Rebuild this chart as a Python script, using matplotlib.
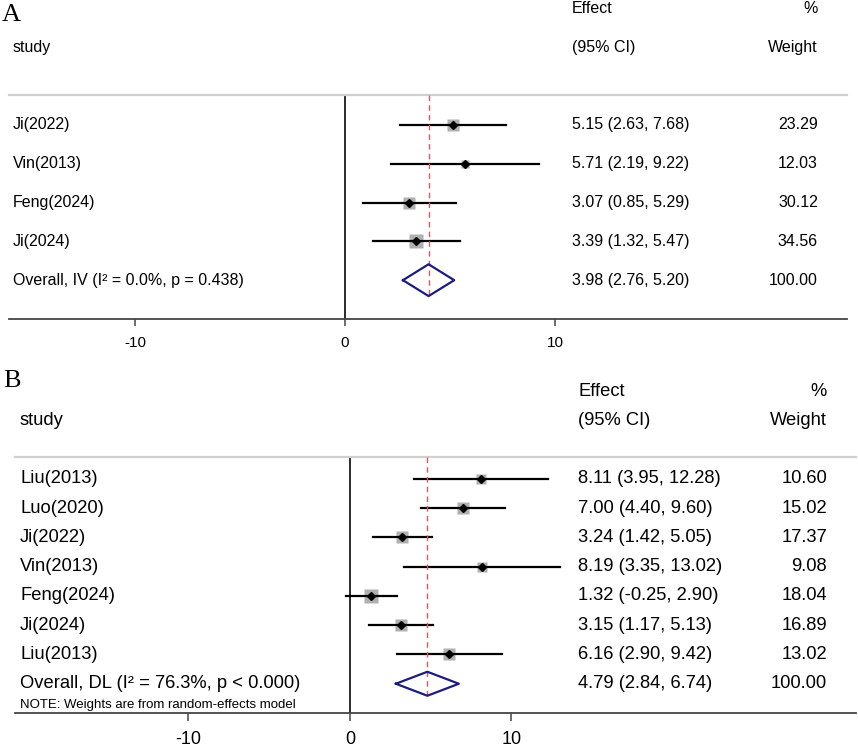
import numpy as np
import matplotlib.pyplot as plt
from matplotlib.transforms import blended_transform_factory

plt.rcParams['font.family'] = ['Liberation Sans', 'DejaVu Sans']
plt.rcParams['axes.unicode_minus'] = False

W, H = 858, 747

# Panel A data
a_studies = ['Ji(2022)', 'Vin(2013)', 'Feng(2024)', 'Ji(2024)']
a_est = [5.15, 5.71, 3.07, 3.39]
a_lo = [2.63, 2.19, 0.85, 1.32]
a_hi = [7.68, 9.22, 5.29, 5.47]
a_wt = [23.29, 12.03, 30.12, 34.56]
a_overall = [3.98, 2.76, 5.20]
a_overall_label = 'Overall, IV (I\u00b2 = 0.0%, p = 0.438)'

# Panel B data
b_studies = ['Liu(2013)', 'Luo(2020)', 'Ji(2022)', 'Vin(2013)', 'Feng(2024)',
             'Ji(2024)', 'Liu(2013)']
b_est = [8.11, 7.00, 3.24, 8.19, 1.32, 3.15, 6.16]
b_lo = [3.95, 4.40, 1.42, 3.35, -0.25, 1.17, 2.90]
b_hi = [12.28, 9.60, 5.05, 13.02, 2.90, 5.13, 9.42]
b_wt = [10.60, 15.02, 17.37, 9.08, 18.04, 16.89, 13.02]
b_overall = [4.79, 2.84, 6.74]
b_overall_label = 'Overall, DL (I\u00b2 = 76.3%, p < 0.000)'
b_note = 'NOTE: Weights are from random-effects model'

ticks = [-10, 0, 10]


def forest(fig, box, xlim, studies, est, lo, hi, wt, overall, overall_label,
           fs, tick_fs, box_px, cols, top_pad, tick_len, note=None):
    left, top, right, bottom = box
    ax = fig.add_axes([left / W, 1 - bottom / H, (right - left) / W, (bottom - top) / H])
    n = len(studies)
    ys = -np.arange(n)
    oy = -n
    ax.set_xlim(*xlim)
    ax.set_ylim(-n - 1.0, top_pad)

    # zero line
    ax.axvline(0, color='#1a1a1a', lw=1.3, zorder=1)

    # study rows: weight box, CI line, point estimate
    for y, e, l, h, w in zip(ys, est, lo, hi, wt):
        side = box_px * np.sqrt(w) * 0.72
        ax.plot(e, y, marker='s', ms=side, color='#b0b0b0', mec='none', zorder=2)
        ax.plot([l, h], [y, y], color='black', lw=1.6, zorder=3)
        ax.plot(e, y, marker='D', ms=4.2, color='black', zorder=4)

    # overall diamond + dashed line
    oe, ol, oh = overall
    dh = 0.41
    ax.plot([ol, oe, oh, oe, ol], [oy, oy + dh, oy, oy - dh, oy],
            color='#1c1c80', lw=1.6, zorder=4)
    ax.plot([oe, oe], [top_pad, oy - dh - 0.05], color='#e0585c', lw=1.0,
            ls=(0, (4, 3)), zorder=3)

    for s in ['left', 'right']:
        ax.spines[s].set_visible(False)
    ax.spines['top'].set_color('#cfcfcf')
    ax.spines['top'].set_linewidth(1.6)
    ax.spines['bottom'].set_color('#444444')
    ax.spines['bottom'].set_linewidth(1.3)
    ax.set_yticks([])
    ax.set_xticks(ticks)
    ax.set_xticklabels([str(t) for t in ticks])
    ax.tick_params(axis='x', length=tick_len, width=1.1, color='#444444',
                   pad=7, labelsize=tick_fs)

    # text columns
    tr = blended_transform_factory(fig.transFigure, ax.transData)
    x_lab, x_eff, x_wt = [c / W for c in cols]
    kw = dict(transform=tr, va='center', fontsize=fs, clip_on=False)
    ax.text(x_eff, 3, 'Effect', ha='left', **kw)
    ax.text(x_wt, 3, '%', ha='right', **kw)
    ax.text(x_lab, 2, 'study', ha='left', **kw)
    ax.text(x_eff, 2, '(95% CI)', ha='left', **kw)
    ax.text(x_wt, 2, 'Weight', ha='right', **kw)
    for y, s, e, l, h, w in zip(ys, studies, est, lo, hi, wt):
        ax.text(x_lab, y, s, ha='left', **kw)
        ax.text(x_eff, y, f'{e:.2f} ({l:.2f}, {h:.2f})', ha='left', **kw)
        ax.text(x_wt, y, f'{w:.2f}', ha='right', **kw)
    ax.text(x_lab, oy, overall_label, ha='left', **kw)
    ax.text(x_eff, oy, f'{oe:.2f} ({ol:.2f}, {oh:.2f})', ha='left', **kw)
    ax.text(x_wt, oy, f'{100:.2f}', ha='right', **kw)
    if note:
        ax.text(x_lab, oy - 0.72, note, ha='left', va='center', transform=tr,
                fontsize=fs * 0.72, clip_on=False)
    return ax


fig = plt.figure(figsize=(W / 100, H / 100), dpi=100)

forest(fig, (9, 95, 847, 319), ((9 - 345) / 21.0, (847 - 345) / 21.0),
       a_studies, a_est, a_lo, a_hi, a_wt, a_overall, a_overall_label,
       fs=11.5, tick_fs=11, box_px=2.3, cols=(13, 572, 818), top_pad=0.77,
       tick_len=5)

forest(fig, (15, 457, 856, 713), ((15 - 350) / 16.15, (856 - 350) / 16.15),
       b_studies, b_est, b_lo, b_hi, b_wt, b_overall, b_overall_label,
       fs=13.2, tick_fs=13, box_px=3.1, cols=(20, 578, 827), top_pad=0.75,
       tick_len=6, note=b_note)

fig.text(2 / W, 1 - 4 / H, 'A', family='Liberation Serif', fontsize=19,
         ha='left', va='top')
fig.text(3 / W, 1 - 370 / H, 'B', family='Liberation Serif', fontsize=19,
         ha='left', va='top')

fig.savefig('out.png', dpi=100)
